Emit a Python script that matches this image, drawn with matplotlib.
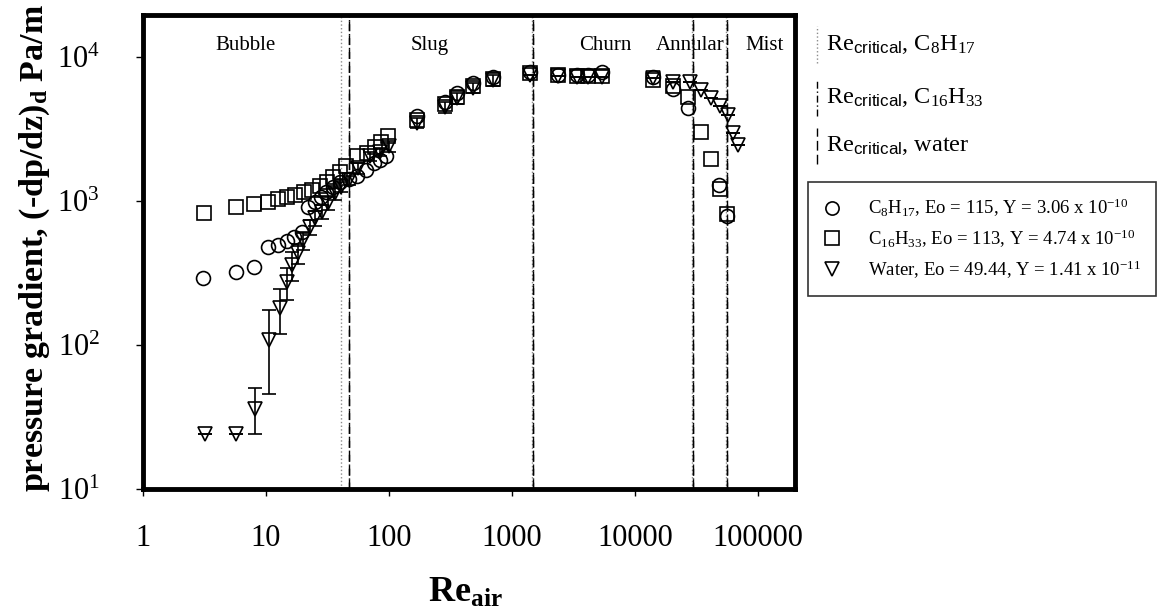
import numpy as np
import matplotlib
matplotlib.use("Agg")
import matplotlib.pyplot as plt
from matplotlib.lines import Line2D

plt.rcParams["font.family"] = ["Liberation Serif", "DejaVu Serif"]
plt.rcParams["mathtext.fontset"] = "custom"
plt.rcParams["mathtext.rm"] = "Liberation Serif"
plt.rcParams["mathtext.it"] = "Liberation Serif:italic"
plt.rcParams["mathtext.bf"] = "Liberation Serif:bold"
plt.rcParams["mathtext.sf"] = "Liberation Sans"

# ── data ─────────────────────────────────────────────────────────────────────
c8_re = [3.1, 5.7, 8.0, 10.4, 12.6, 14.7, 16.9, 19.5, 22, 25, 28, 31, 35, 40,
         47, 55, 65, 75, 85, 95, 170, 285, 355, 484, 705, 1400, 2380, 3360,
         4170, 5360, 14100, 20400, 27000, 47800, 55600]
c8_dp = [290, 320, 347, 482, 495, 530, 560, 612, 905, 980, 1060, 1160, 1260,
         1360, 1430, 1500, 1650, 1830, 1920, 2050, 3900, 4900, 5600, 6600,
         7300, 7900, 7500, 7450, 7450, 7900, 7300, 6000, 4400, 1290, 790]

c16_re = [3.15, 5.7, 8.0, 10.3, 12.4, 14.7, 17.2, 20.4, 23.5, 27.5, 31.1, 35.3,
          40, 44.7, 54.6, 65.8, 76.9, 85.5, 98.7, 170, 285, 355, 484, 705,
          1400, 2380, 3360, 4170, 5360, 14100, 20400, 27000, 34600, 41800,
          49000, 55600]
c16_dp = [830, 904, 953, 990, 1033, 1072, 1100, 1150, 1200, 1280, 1360, 1475,
          1600, 1750, 2050, 2140, 2380, 2580, 2820, 3650, 4700, 5300, 6300,
          7000, 7700, 7500, 7400, 7400, 7400, 6900, 6300, 5300, 3030, 1950,
          1220, 815]

water_re = [3.2, 5.7, 8.2, 10.6, 13, 14.7, 16.2, 18.3, 20.1, 22.7, 25, 28.4,
            32, 36.3, 41, 47, 56, 70, 85, 100, 170, 285, 355, 484, 705, 1400,
            2380, 3360, 4170, 5360, 14100, 20400, 28000, 34600, 41800, 49000,
            57300, 63000, 69200]
water_dp = [24, 24, 36, 108, 180, 275, 360, 433, 535, 660, 760, 843, 963, 1130,
            1250, 1400, 1700, 2040, 2200, 2400, 3500, 4500, 5200, 6100, 6900,
            7500, 7400, 7300, 7300, 7300, 7200, 6700, 6750, 5900, 5170, 4560,
            3950, 2960, 2450]
water_err_lo = [0, 0, 12, 62, 61, 70, 80, 70, 75, 80, 90, 90, 100, 110,
                100, 100, 150, 150, 150, 200, 300, 400, 450, 500, 600, 0,
                0, 0, 0, 0, 0, 0, 0, 0, 0, 0, 0, 0, 0]
water_err_hi = [0, 0, 14, 66, 65, 70, 80, 70, 75, 80, 90, 90, 100, 110,
                100, 100, 150, 150, 150, 200, 300, 400, 450, 500, 600, 0,
                0, 0, 0, 0, 0, 0, 0, 0, 0, 0, 0, 0, 0]

# critical Reynolds numbers (regime boundaries)
c8_crit = [41, 1450, 29000, 55000]
c16_crit = [47, 1480, 29400, 55600]
water_crit = [47, 1490, 29500, 56000]

regimes = ["Bubble", "Slug", "Churn", "Annular", "Mist"]
regime_x = [6.8, 215, 5700, 28000, 114000]

x_ticks = [1, 10, 100, 1000, 10000, 100000]
x_ticklabels = ["1", "10", "100", "1000", "10000", "100000"]
y_ticks = [10, 100, 1000, 10000]
y_ticklabels = [r"$10^{1}$", r"$10^{2}$", r"$10^{3}$", r"$10^{4}$"]

labels = [r"C$_{8}$H$_{17}$, Eo = 115, Y = 3.06 x 10$^{-10}$",
          r"C$_{16}$H$_{33}$, Eo = 113, Y = 4.74 x 10$^{-10}$",
          r"Water, Eo = 49.44, Y = 1.41 x 10$^{-11}$"]

# ── figure ───────────────────────────────────────────────────────────────────
fig = plt.figure(figsize=(11.64, 6.16), dpi=100)
ax = fig.add_axes([0.1229, 0.2062, 0.5601, 0.7695])
ax.set_xscale("log")
ax.set_yscale("log")
ax.set_xlim(1, 2.0e5)
ax.set_ylim(10, 1.96e4)

for xv in c8_crit:
    ax.axvline(xv, color="0.55", ls=":", lw=1.0, zorder=1)
for xv in c16_crit:
    ax.axvline(xv, color="black", ls=(0, (5, 2, 1, 2)), lw=1.0, zorder=1)
for xv in water_crit:
    ax.axvline(xv, color="black", ls=(0, (7, 3)), lw=1.0, zorder=1)

mk = dict(mfc="none", mec="black", mew=1.2, ms=10, ls="none", zorder=3)
ax.errorbar(water_re, water_dp, yerr=[water_err_lo, water_err_hi],
            fmt="none", ecolor="black", elinewidth=1.2, capsize=5,
            capthick=1.2, zorder=2)
h1, = ax.plot(c8_re, c8_dp, marker="o", **mk)
h2, = ax.plot(c16_re, c16_dp, marker="s", **mk)
h3, = ax.plot(water_re, water_dp, marker="v", **mk)

for name, xv in zip(regimes, regime_x):
    ax.text(xv, 12100, name, ha="center", va="center", fontsize=15)

ax.set_xticks(x_ticks)
ax.set_xticklabels(x_ticklabels)
ax.set_yticks(y_ticks)
ax.set_yticklabels(y_ticklabels)
ax.minorticks_off()
ax.tick_params(axis="x", direction="out", length=5, width=1, pad=20,
               labelsize=22)
ax.tick_params(axis="y", direction="out", length=5, width=1, pad=26,
               labelsize=22)
for sp in ax.spines.values():
    sp.set_linewidth(3.5)

fig.text(0.400, 0.036, r"$\mathbf{Re}_{\mathsf{\mathbf{air}}}$",
         ha="center", va="center", fontsize=26)
fig.text(0.030, 0.597, r"pressure gradient, (-dp/dz)$_{\mathbf{d}}$ Pa/m",
         ha="center", va="center", rotation=90, fontsize=24.5,
         fontweight="bold")

# line legend for critical Re
crit_y = [0.927, 0.842, 0.763]
crit_styles = [(":", "0.55"), ((0, (5, 2, 1, 2)), "black"),
               ((0, (7, 3)), "black")]
crit_text = [r"Re$_{\mathsf{critical}}$, C$_{8}$H$_{17}$",
             r"Re$_{\mathsf{critical}}$, C$_{16}$H$_{33}$",
             r"Re$_{\mathsf{critical}}$, water"]
for yv, (ls, col), txt in zip(crit_y, crit_styles, crit_text):
    fig.add_artist(Line2D([0.7015, 0.7015], [yv - 0.03, yv + 0.03],
                          transform=fig.transFigure, color=col, ls=ls, lw=1.0))
    fig.text(0.710, yv, txt, ha="left", va="center", fontsize=17.5)

leg = ax.legend([h1, h2, h3], labels, loc="upper left",
                bbox_to_anchor=(808 / 1164, 1 - 182 / 616),
                bbox_transform=fig.transFigure, borderaxespad=0,
                frameon=True, fancybox=False, edgecolor="black",
                fontsize=13.5, handletextpad=1.4, borderpad=0.8,
                labelspacing=0.45, handlelength=1.0, markerscale=0.95)
leg.get_frame().set_linewidth(1.2)

plt.savefig("out.png", dpi=100)
